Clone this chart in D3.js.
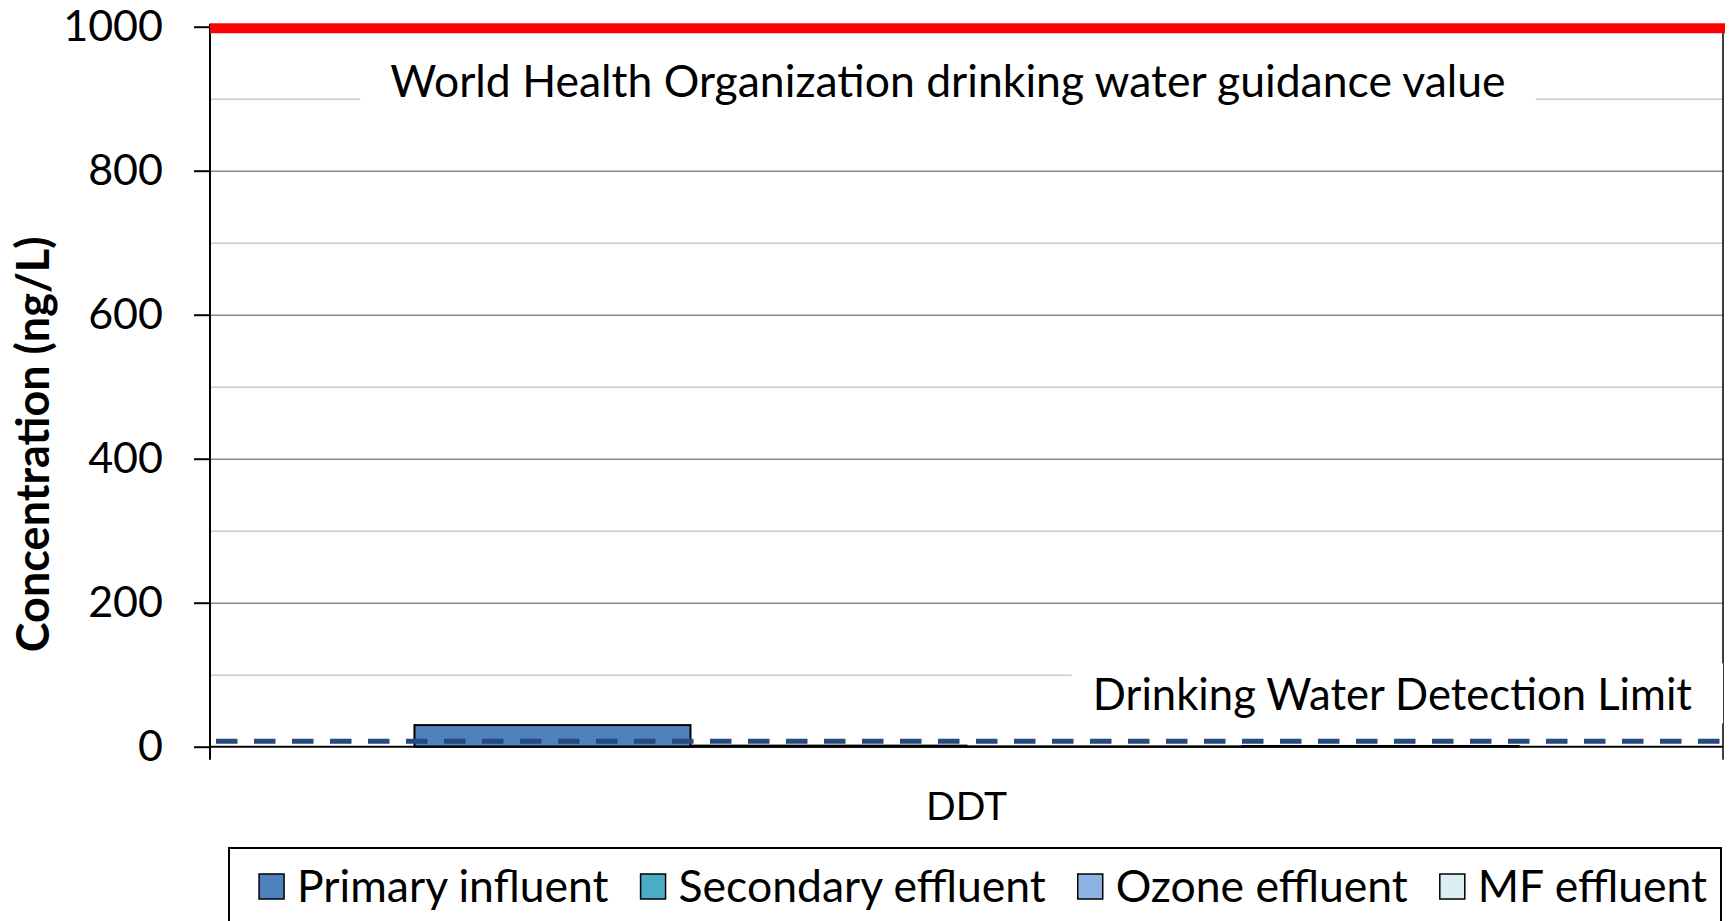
<!DOCTYPE html>
<html>
<head>
<meta charset="utf-8">
<script src="https://cdn.jsdelivr.net/npm/d3@7"></script>
<style>
  body { margin: 0; background: #fff; }
  svg { display: block; font-family: Lato, Carlito, Calibri, sans-serif; }
  .axis path { display: none; }
  .axis text { font-family: Lato, Carlito, Calibri, sans-serif; font-size: 43px; fill: #000; }
  .axis line { stroke: #000; stroke-width: 2px; }
  .grid line { stroke-width: 1.5px; }
  .grid path { display: none; }
</style>
</head>
<body>
<svg width="1732" height="921"></svg>
<script>
// data
var categories = ["DDT"];
var series = ["Primary influent", "Secondary effluent", "Ozone effluent", "MF effluent"];
var values = [30, 1.5, 0.3, 1];           // ng/L, one per series for DDT
var colors = ["#4f81bd", "#4bacc6", "#8db3e2", "#dbeef3"];
var majorTicks = [0, 200, 400, 600, 800, 1000];
var minorTicks = [100, 300, 500, 700, 900];
var whoValue = 1000;                       // WHO drinking water guidance value
var detectionLimit = 7.5;                  // drinking water detection limit

var svg = d3.select("svg"),
    margin = {top: 26.7, right: 9, bottom: 174.3, left: 210},
    width = +svg.attr("width") - margin.left - margin.right,
    height = +svg.attr("height") - margin.top - margin.bottom,
    g = svg.append("g").attr("transform", "translate(" + margin.left + "," + margin.top + ")");

var y = d3.scaleLinear().domain([0, 1000]).range([height, 0]);

var x0 = d3.scaleBand()
    .domain(categories)
    .range([0, width])
    .paddingOuter(0.1852);

var x1 = d3.scaleBand()
    .domain(series)
    .range([0, x0.bandwidth()]);

var z = d3.scaleOrdinal().domain(series).range(colors);

// minor gridlines
g.append("g")
    .attr("class", "grid")
    .call(d3.axisLeft(y).tickValues(minorTicks).tickSize(-width).tickFormat(""))
    .selectAll("line").attr("stroke", "#cbcbcb");

// major gridlines
g.append("g")
    .attr("class", "grid")
    .call(d3.axisLeft(y).tickValues(majorTicks.slice(1, -1)).tickSize(-width).tickFormat(""))
    .selectAll("line").attr("stroke", "#8a8a8a");

// bars
var table = categories.map(function(c) {
  return {cat: c, vals: series.map(function(s, i) { return {key: s, value: values[i]}; })};
});

g.append("g")
  .selectAll("g")
  .data(table)
  .enter().append("g")
    .attr("transform", function(d) { return "translate(" + x0(d.cat) + ",0)"; })
  .selectAll("rect")
  .data(function(d) { return d.vals; })
  .enter().append("rect")
    .attr("x", function(d) { return x1(d.key); })
    .attr("y", function(d) { return y(d.value); })
    .attr("width", x1.bandwidth())
    .attr("height", function(d) { return y(0) - y(d.value); })
    .attr("fill", function(d) { return z(d.key); })
    .attr("stroke", "#000")
    .attr("stroke-width", 2);

// y axis
g.append("g")
    .attr("class", "axis")
    .call(d3.axisLeft(y).tickValues(majorTicks).tickSize(16).tickPadding(31).tickFormat(d3.format("d")));

g.append("line")
    .attr("x1", 0).attr("x2", 0)
    .attr("y1", y(1000) - 3).attr("y2", height + 13)
    .attr("stroke", "#000").attr("stroke-width", 2);

// x axis baseline and category boundary ticks
g.append("line")
    .attr("x1", 0).attr("x2", width)
    .attr("y1", y(0)).attr("y2", y(0))
    .attr("stroke", "#000").attr("stroke-width", 2);

g.append("line")
    .attr("x1", width).attr("x2", width)
    .attr("y1", y(1000)).attr("y2", height + 13)
    .attr("stroke", "#000").attr("stroke-width", 1.5);

g.append("text")
    .attr("x", x0("DDT") + x0.bandwidth() / 2)
    .attr("y", height + 73)
    .attr("text-anchor", "middle")
    .style("font-size", "39px")
    .text("DDT");

// y title
svg.append("text")
    .attr("transform", "translate(49," + (margin.top + height * 0.58) + ") rotate(-90)")
    .attr("text-anchor", "middle")
    .style("font-size", "45px")
    .style("font-weight", "bold")
    .text("Concentration (ng/L)");

// WHO guidance line + label
var whoLabel = g.append("g");
var whoText = whoLabel.append("text")
    .attr("x", 738)
    .attr("y", y(whoValue) + 70)
    .attr("text-anchor", "middle")
    .style("font-size", "44.5px")
    .text("World Health Organization drinking water guidance value");
var wb = whoText.node().getBBox();
whoLabel.insert("rect", "text")
    .attr("x", wb.x - 30).attr("y", wb.y - 4)
    .attr("width", wb.width + 60).attr("height", wb.height + 8)
    .attr("fill", "#fff");

g.append("line")
    .attr("x1", 0).attr("x2", width + 2)
    .attr("y1", y(whoValue) + 1.5).attr("y2", y(whoValue) + 1.5)
    .attr("stroke", "#ff0000").attr("stroke-width", 10);

// detection limit label + dashed line
var dlLabel = g.append("g");
var dlText = dlLabel.append("text")
    .attr("x", width - 31)
    .attr("y", y(detectionLimit) - 31)
    .attr("text-anchor", "end")
    .style("font-size", "43.6px")
    .text("Drinking Water Detection Limit");
var db = dlText.node().getBBox();
dlLabel.insert("rect", "text")
    .attr("x", db.x - 21).attr("y", db.y - 4)
    .attr("width", width - db.x + 21).attr("height", db.height + 8)
    .attr("fill", "#fff");

g.append("line")
    .attr("x1", 6).attr("x2", width)
    .attr("y1", y(detectionLimit)).attr("y2", y(detectionLimit))
    .attr("stroke", "#244a7f").attr("stroke-width", 5)
    .attr("stroke-dasharray", "21.5,16.5");

// legend
svg.append("rect")
    .attr("x", 229).attr("y", 848)
    .attr("width", 1492).attr("height", 100)
    .attr("fill", "#fff").attr("stroke", "#000").attr("stroke-width", 2);

var legend = svg.append("g")
    .style("font-size", "44.5px");

var items = legend.selectAll("g")
  .data(series)
  .enter().append("g");

items.append("rect")
    .attr("y", 874)
    .attr("width", 25)
    .attr("height", 25)
    .attr("fill", z)
    .attr("stroke", "#000")
    .attr("stroke-width", 1.5);

items.append("text")
    .attr("x", 38)
    .attr("y", 902)
    .text(function(d) { return d; });

var offsets = [], xx = 0;
items.each(function() {
  offsets.push(xx);
  xx += 38 + d3.select(this).select("text").node().getComputedTextLength() + 32;
});
var total = xx - 32, start = 983 - total / 2;
items.attr("transform", function(d, i) { return "translate(" + (start + offsets[i]) + ",0)"; });
</script>
</body>
</html>
